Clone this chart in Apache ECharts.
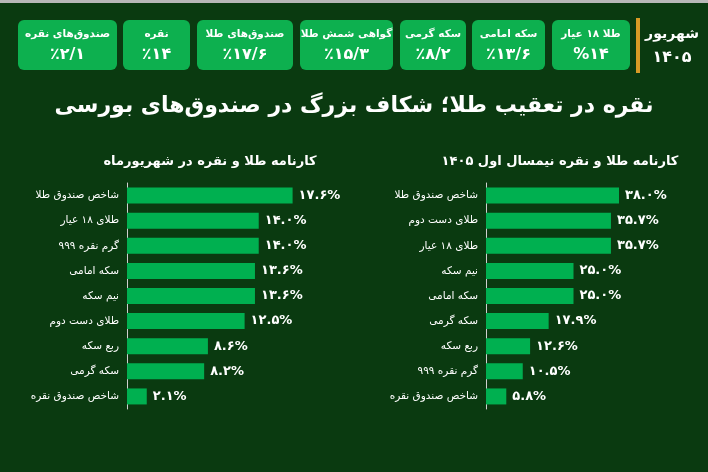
<!DOCTYPE html>
<html lang="fa" style="height: 100%">
<head>
  <meta charset="utf-8">
</head>
<body style="height: 100%; margin: 0; background: #0a3a10">
  <div id="container" style="height: 100%"></div>
  <script src="https://fastly.jsdelivr.net/npm/echarts@6/dist/echarts.min.js"></script>
  <script type="text/javascript">
    // کارنامه طلا و نقره در شهریورماه
    const monthCats = ['شاخص صندوق طلا', 'طلای ۱۸ عیار', 'گرم نقره ۹۹۹', 'سکه امامی', 'نیم سکه', 'طلای دست دوم', 'ربع سکه', 'سکه گرمی', 'شاخص صندوق نقره'];
    const monthVals = [17.6, 14.0, 14.0, 13.6, 13.6, 12.5, 8.6, 8.2, 2.1];
    // کارنامه طلا و نقره نیمسال اول ۱۴۰۵
    const halfCats = ['شاخص صندوق طلا', 'طلای دست دوم', 'طلای ۱۸ عیار', 'نیم سکه', 'سکه امامی', 'سکه گرمی', 'ربع سکه', 'گرم نقره ۹۹۹', 'شاخص صندوق نقره'];
    const halfVals = [38.0, 35.7, 35.7, 25.0, 25.0, 17.9, 12.6, 10.5, 5.8];
    // کارت‌های بالا (از راست به چپ)
    const cardNames = ['طلا ۱۸ عیار', 'سکه امامی', 'سکه گرمی', 'گواهی شمش طلا', 'صندوق‌های طلا', 'نقره', 'صندوق‌های نقره'];
    const cardVals = ['%۱۴', '٪۱۳/۶', '٪۸/۲', '٪۱۵/۳', '٪۱۷/۶', '٪۱۴', '٪۲/۱'];

    const FONT = '"DejaVu Sans", sans-serif';
    const GREEN = '#00b050';
    const fa = function (s) {
      return String(s).replace(/[0-9]/g, function (d) { return '۰۱۲۳۴۵۶۷۸۹'[d]; });
    };

    var dom = document.getElementById('container');
    var myChart = echarts.init(dom, null, { renderer: 'canvas' });

    const cardBoxes = [[552, 630], [472, 545], [400, 466], [300, 393], [197, 293], [123, 190], [18, 117]];
    const graphics = [];
    cardBoxes.forEach(function (b, i) {
      graphics.push({
        type: 'rect', shape: { x: b[0], y: 20, width: b[1] - b[0], height: 50, r: 6 },
        style: { fill: '#0db04f' }
      });
      graphics.push({
        type: 'text', x: (b[0] + b[1]) / 2, y: 34,
        style: { text: cardNames[i], fill: '#fff', font: 'bold 10.5px ' + FONT, align: 'center', verticalAlign: 'middle' }
      });
      graphics.push({
        type: 'text', x: (b[0] + b[1]) / 2, y: 55,
        style: { text: cardVals[i], fill: '#fff', font: 'bold 16px ' + FONT, align: 'center', verticalAlign: 'middle' }
      });
    });
    graphics.push(
      { type: 'rect', shape: { x: 636, y: 18, width: 4, height: 55 }, style: { fill: '#d89a26' } },
      { type: 'text', x: 672, y: 34, style: { text: 'شهریور', fill: '#fff', font: 'bold 14px ' + FONT, align: 'center', verticalAlign: 'middle' } },
      { type: 'text', x: 672, y: 58, style: { text: '۱۴۰۵', fill: '#fff', font: 'bold 16px ' + FONT, align: 'center', verticalAlign: 'middle' } },
      { type: 'text', x: 354, y: 106, style: { text: 'نقره در تعقیب طلا؛ شکاف بزرگ در صندوق‌های بورسی', fill: '#fff', font: 'bold 22px ' + FONT, align: 'center', verticalAlign: 'middle' } },
      { type: 'text', x: 210, y: 162, style: { text: 'کارنامه طلا و نقره در شهریورماه', fill: '#fff', font: 'bold 13px ' + FONT, align: 'center', verticalAlign: 'middle' } },
      { type: 'text', x: 560, y: 162, style: { text: 'کارنامه طلا و نقره نیمسال اول ۱۴۰۵', fill: '#fff', font: 'bold 13px ' + FONT, align: 'center', verticalAlign: 'middle' } },
      { type: 'rect', shape: { x: 0, y: 0, width: 708, height: 3 }, style: { fill: '#b8b8b8' } }
    );

    function yAx(idx, cats) {
      return {
        type: 'category', gridIndex: idx, data: cats, inverse: true,
        axisLine: { show: true, lineStyle: { color: '#d0d0d0', width: 1 } },
        axisTick: { show: false },
        axisLabel: { color: '#fff', fontSize: 10.5, fontFamily: FONT, margin: 8 }
      };
    }
    function xAx(idx, max) {
      return { type: 'value', gridIndex: idx, min: 0, max: max, show: false, splitLine: { show: false } };
    }
    function ser(idx, vals) {
      return {
        type: 'bar', xAxisIndex: idx, yAxisIndex: idx, data: vals, barWidth: 16,
        itemStyle: { color: GREEN },
        label: {
          show: true, position: 'right', distance: 6, color: '#fff',
          fontFamily: FONT, fontWeight: 'bold', fontSize: 13,
          formatter: function (p) { return fa(p.value.toFixed(1)) + '%'; }
        }
      };
    }

    var option = {
      backgroundColor: '#0a3a10',
      animation: false,
      grid: [
        { left: 127, top: 183, width: 207, height: 226 },
        { left: 486, top: 183, width: 168, height: 226 }
      ],
      xAxis: [xAx(0, 22), xAx(1, 48)],
      yAxis: [yAx(0, monthCats), yAx(1, halfCats)],
      series: [ser(0, monthVals), ser(1, halfVals)],
      graphic: { elements: graphics }
    };
    myChart.setOption(option);
    window.addEventListener('resize', myChart.resize);
  </script>
</body>
</html>
